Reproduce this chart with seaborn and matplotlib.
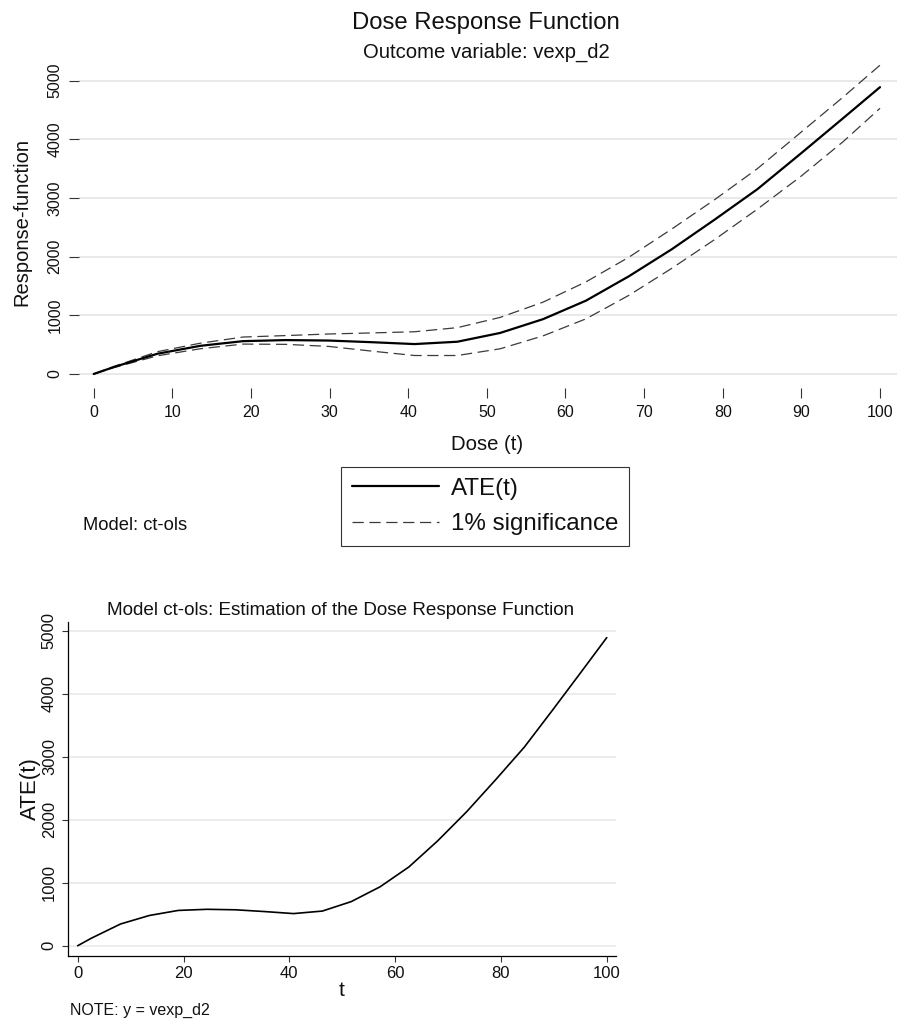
import numpy as np
import pandas as pd
import matplotlib
matplotlib.use("Agg")
import matplotlib.pyplot as plt
from matplotlib.lines import Line2D
import seaborn as sns

# ---------------- data ----------------
dose = [0, 2.6, 8.1, 13.55, 19, 24.45, 29.9, 35.35, 40.8, 46.25, 51.7,
        57.15, 62.6, 68.05, 73.5, 78.95, 84.4, 89.85, 95.3, 100]
ate = [0, 120, 345, 480, 560, 578, 570, 542, 510, 550, 700,
       935, 1250, 1665, 2125, 2630, 3150, 3750, 4360, 4890]
upper = [0, 130, 380, 525, 630, 655, 682, 700, 720, 790, 965,
         1225, 1570, 1990, 2470, 2970, 3500, 4110, 4720, 5265]
lower = [0, 110, 310, 430, 510, 505, 470, 390, 315, 315, 430,
         650, 940, 1340, 1800, 2290, 2810, 3360, 3960, 4530]

top_xticks = [0, 10, 20, 30, 40, 50, 60, 70, 80, 90, 100]
top_yticks = [0, 1000, 2000, 3000, 4000, 5000]
bot_xticks = [0, 20, 40, 60, 80, 100]
bot_yticks = [0, 1000, 2000, 3000, 4000, 5000]

df = pd.DataFrame({"dose": dose, "ate": ate, "upper": upper, "lower": lower})

# ---------------- style ----------------
sns.set_theme(style="white")
plt.rcParams["font.family"] = ["Liberation Sans", "DejaVu Sans"]

W, H = 904, 1022
fig = plt.figure(figsize=(W / 100, H / 100), dpi=100)
fig.patch.set_facecolor("white")


def fx(px):
    return px / W


def fy(py):
    return 1 - py / H


GRID = "#e9e9e9"

# ---------------- top panel ----------------
ax1 = fig.add_axes([fx(79), fy(388.3), (897 - 79) / W, (388.3 - 60) / H])
ax1.set_facecolor("white")
for v in top_yticks:
    ax1.axhline(v, color=GRID, lw=1.4, zorder=0)

sns.lineplot(data=df, x="dose", y="upper", ax=ax1, color="#3a3a3a", lw=0.9)
ax1.lines[-1].set_dashes([9, 4.5])
sns.lineplot(data=df, x="dose", y="lower", ax=ax1, color="#3a3a3a", lw=0.9)
ax1.lines[-1].set_dashes([9, 4.5])
sns.lineplot(data=df, x="dose", y="ate", ax=ax1, color="black", lw=1.6)

ax1.set_xlim(-1.87, 102.16)
ax1.set_ylim(-244, 5353)
for s in ax1.spines.values():
    s.set_visible(False)
ax1.set_xticks(top_xticks)
ax1.set_yticks(top_yticks)
ax1.set_xticklabels([str(v) for v in top_xticks])
ax1.set_yticklabels([str(v) for v in top_yticks], rotation=90, va="center")
ax1.tick_params(axis="both", which="major", direction="out", length=7.2,
                width=0.8, color="#333333", labelsize=11.5, labelcolor="#111111")
ax1.tick_params(axis="x", pad=5, bottom=True)
ax1.tick_params(axis="y", pad=4.5, left=True)
ax1.set_xlabel("")
ax1.set_ylabel("")
ax1.grid(False)

fig.text(fx(486), fy(22.5), "Dose Response Function", fontsize=17.2,
         ha="center", va="center", color="#111111")
fig.text(fx(486), fy(52), "Outcome variable: vexp_d2", fontsize=14.6,
         ha="center", va="center", color="#111111")
fig.text(fx(21.7), fy(222), "Response-function", fontsize=14.5, rotation=90,
         ha="center", va="center", color="#111111")
fig.text(fx(486.7), fy(444), "Dose (t)", fontsize=14.6,
         ha="center", va="center", color="#111111")
fig.text(fx(82.7), fy(525), "Model: ct-ols", fontsize=13.2,
         ha="left", va="center", color="#111111")

handles = [Line2D([], [], color="black", lw=1.6),
           Line2D([], [], color="#3a3a3a", lw=0.9, dashes=[9, 4.5])]
leg = fig.legend(handles=handles, labels=["ATE(t)", "1% significance"],
                 loc="upper left", bbox_to_anchor=(fx(341), fy(467)),
                 bbox_transform=fig.transFigure, borderaxespad=0,
                 frameon=True, fancybox=False, fontsize=17.4,
                 handlelength=3.6, handletextpad=0.5, borderpad=0.45,
                 labelspacing=0.55)
leg.get_frame().set_edgecolor("black")
leg.get_frame().set_linewidth(0.8)
for t in leg.get_texts():
    t.set_color("#111111")

# ---------------- bottom panel ----------------
ax2 = fig.add_axes([fx(67.7), fy(956.3), (616 - 67.7) / W, (956.3 - 621.7) / H])
ax2.set_facecolor("white")
for v in bot_yticks:
    ax2.axhline(v, color=GRID, lw=1.2, zorder=0)
sns.lineplot(data=df, x="dose", y="ate", ax=ax2, color="black", lw=1.2)
ax2.set_xlim(-1.89, 101.75)
ax2.set_ylim(-168, 5143)
ax2.spines["top"].set_visible(False)
ax2.spines["right"].set_visible(False)
for k in ("left", "bottom"):
    ax2.spines[k].set_color("black")
    ax2.spines[k].set_linewidth(0.9)
ax2.set_xticks(bot_xticks)
ax2.set_yticks(bot_yticks)
ax2.set_xticklabels([str(v) for v in bot_xticks])
ax2.set_yticklabels([str(v) for v in bot_yticks], rotation=90, va="center")
ax2.tick_params(axis="both", direction="out", length=4.3, width=0.8,
                color="#333333", labelsize=12, labelcolor="#111111",
                bottom=True, left=True)
ax2.tick_params(axis="x", pad=2.5)
ax2.tick_params(axis="y", pad=3.5)
ax2.set_xlabel("")
ax2.set_ylabel("")
ax2.grid(False)

fig.text(fx(341), fy(610), "Model ct-ols: Estimation of the Dose Response Function",
         fontsize=13.6, ha="center", va="center", color="#111111")
fig.text(fx(30), fy(789), "ATE(t)", fontsize=16, rotation=90,
         ha="center", va="center", color="#111111")
fig.text(fx(341.7), fy(990), "t", fontsize=15, ha="center", va="center",
         color="#111111")
fig.text(fx(70), fy(1010), "NOTE: y = vexp_d2", fontsize=11.5, ha="left",
         va="center", color="#111111")

fig.savefig("out.png", dpi=100, facecolor="white")
